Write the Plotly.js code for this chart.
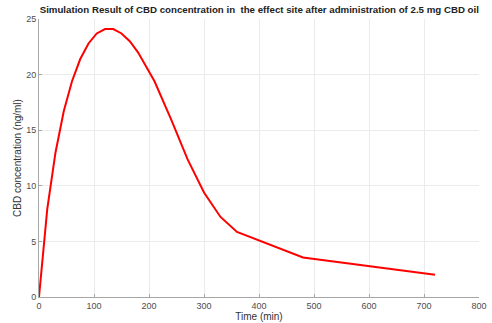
<!DOCTYPE html>
<html>
<head>
<script src="https://cdn.plot.ly/plotly-3.0.1.min.js"></script>
<style>html,body{margin:0;padding:0;background:#fff;}#chart{width:492px;height:323px;}</style>
</head>
<body>
<div id="chart"></div>
<script>
const timeMin = [0, 15, 30, 45, 60, 75, 90, 105, 120, 135, 150, 165, 180, 210, 240, 270, 300, 330, 360, 480, 720];
const cbdConc = [0, 7.9, 13.0, 16.7, 19.4, 21.4, 22.8, 23.7, 24.1, 24.1, 23.7, 23.0, 22.0, 19.4, 16.0, 12.4, 9.4, 7.2, 5.85, 3.55, 2.0];
const xTicks = [0, 100, 200, 300, 400, 500, 600, 700, 800];
const yTicks = [0, 5, 10, 15, 20, 25];

const trace = {
  x: timeMin, y: cbdConc, type: 'scatter', mode: 'lines',
  line: {color: '#ff0000', width: 2}, hoverinfo: 'skip'
};
const axisCommon = {
  showgrid: true, gridcolor: '#ebebeb', gridwidth: 1,
  showline: true, linecolor: '#a6a6a6', linewidth: 1,
  ticks: 'inside', ticklen: 3, tickcolor: '#a6a6a6',
  tickfont: {family: 'Liberation Sans, Arial, sans-serif', size: 9, color: '#4d4d4d'},
  zeroline: false, mirror: false
};
const layout = {
  width: 492, height: 323,
  margin: {l: 39, r: 13, t: 19, b: 26},
  paper_bgcolor: '#ffffff', plot_bgcolor: '#ffffff',
  showlegend: false,
  title: {
    text: 'Simulation Result of CBD concentration in  the effect site after administration of 2.5 mg CBD oil',
    font: {family: 'Liberation Sans, Arial, sans-serif', size: 9.7, color: '#222222', weight: 'bold'},
    x: 0.527, xanchor: 'center', y: 0.98, yanchor: 'top'
  },
  xaxis: Object.assign({}, axisCommon, {
    range: [0, 800], tickvals: xTicks, ticktext: xTicks.map(String),
    title: {text: 'Time (min)', font: {family: 'Liberation Sans, Arial, sans-serif', size: 10, color: '#333333'}, standoff: 2}
  }),
  yaxis: Object.assign({}, axisCommon, {
    range: [0, 25], tickvals: yTicks, ticktext: yTicks.map(String),
    title: {text: 'CBD concentration (ng/ml)', font: {family: 'Liberation Sans, Arial, sans-serif', size: 10, color: '#333333'}, standoff: 2}
  })
};
Plotly.newPlot('chart', [trace], layout, {displayModeBar: false, staticPlot: true});
</script>
</body>
</html>
